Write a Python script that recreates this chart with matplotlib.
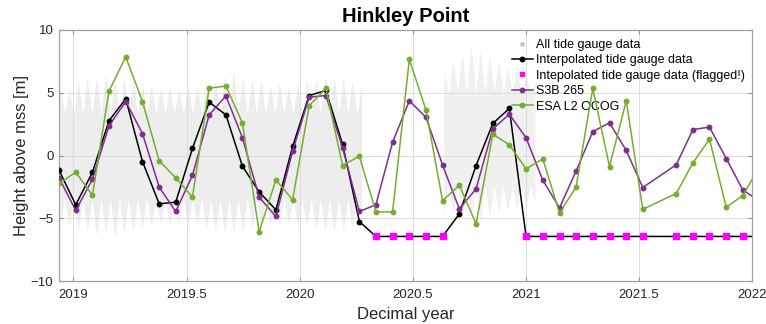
import numpy as np
import matplotlib
matplotlib.use("Agg")
import matplotlib.pyplot as plt
from matplotlib.lines import Line2D

plt.rcParams['font.family'] = ['Liberation Sans', 'DejaVu Sans']

# pass times (decimal year), one per 27-day cycle (one cycle missing in 2021.6)
t = [2018.936, 2019.010, 2019.084, 2019.157, 2019.231, 2019.305, 2019.379, 2019.452,
     2019.526, 2019.600, 2019.674, 2019.747, 2019.821, 2019.895, 2019.969, 2020.042,
     2020.116, 2020.190, 2020.264, 2020.337, 2020.411, 2020.485, 2020.559, 2020.632,
     2020.706, 2020.780, 2020.854, 2020.927, 2021.001, 2021.075, 2021.149, 2021.222,
     2021.296, 2021.370, 2021.444, 2021.517, 2021.665, 2021.739, 2021.812, 2021.886,
     2021.960, 2022.034]

tg_interp = [-1.17, -3.93, -1.33, 2.76, 4.52, -0.48, -3.85, -3.72, 0.56, 4.25, 3.24,
             -0.85, -2.90, -4.33, 0.72, 4.78, 5.18, 0.88, -5.26, -6.45, -6.45, -6.45,
             -6.45, -6.45, -4.65, -0.80, 2.55, 3.75, -6.45, -6.45, -6.45, -6.45, -6.45,
             -6.45, -6.45, -6.45, -6.45, -6.45, -6.45, -6.45, -6.45, -6.45]
tg_flagged = [0] * 19 + [1] * 5 + [0] * 4 + [1] * 14

s3b = [-1.78, -4.38, -1.89, 2.36, 4.30, 1.75, -2.52, -4.46, -1.59, 3.24, 4.75, 1.41,
       -3.32, -4.86, 0.35, 4.65, 4.78, 0.61, -4.46, -3.93, 1.06, 4.36, 3.03, -0.77,
       -4.25, -2.66, 2.12, 3.29, 1.41, -1.97, -4.17, -1.25, 1.91, 2.60, 0.40, -2.55,
       -0.74, 2.07, 2.26, -0.24, -2.76, -3.64]

ocog = [-2.23, -1.33, -3.16, 5.13, 7.86, 4.30, -0.43, -1.78, -3.32, 5.37, 5.53, 2.60,
        -6.08, -1.94, -3.53, 3.98, 5.34, -0.80, -0.05, -4.49, -4.49, 7.67, 3.59, -3.61,
        -2.36, -5.45, 1.70, 0.85, -1.06, -0.27, -4.57, -2.52, 5.34, -0.88, 4.36, -4.28,
        -3.03, -0.58, 1.30, -4.12, -3.19, -0.86]

# tide gauge record: spring-tide extremes (two stretches, gap mid 2020)
gauge_t_a = [2018.940, 2018.980, 2019.021, 2019.061, 2019.102, 2019.142, 2019.183,
             2019.223, 2019.263, 2019.304, 2019.344, 2019.385, 2019.425, 2019.465,
             2019.506, 2019.546, 2019.587, 2019.627, 2019.668, 2019.708, 2019.748,
             2019.789, 2019.829, 2019.870, 2019.910, 2019.950, 2019.991, 2020.031,
             2020.072, 2020.112, 2020.152, 2020.193, 2020.233, 2020.274]
gauge_hi_a = [5.6, 5.2, 5.9, 6.2, 6.3, 6.5, 6.4, 6.2, 6.1, 5.8, 5.6, 5.4, 5.5, 5.3,
              5.5, 5.6, 5.9, 6.1, 6.4, 6.8, 6.3, 6.1, 5.9, 5.7, 5.8, 5.5, 5.8, 5.9,
              6.1, 6.3, 6.4, 6.2, 6.0, 5.8]
gauge_lo_a = [-5.8, -5.6, -6.0, -6.1, -6.4, -6.3, -6.5, -6.2, -6.0, -5.8, -5.6, -5.4,
              -5.5, -5.3, -5.6, -5.7, -5.9, -6.1, -6.2, -6.3, -6.0, -5.8, -5.7, -5.5,
              -5.6, -5.4, -5.6, -5.7, -5.9, -6.1, -6.2, -6.0, -5.8, -5.6]
gauge_t_b = [2020.637, 2020.678, 2020.718, 2020.758, 2020.799, 2020.839, 2020.880,
             2020.920, 2020.960, 2021.001, 2021.041]
gauge_hi_b = [6.8, 7.6, 8.2, 8.8, 8.4, 8.0, 7.6, 7.2, 6.8, 6.4, 5.8]
gauge_lo_b = [-4.8, -4.6, -4.9, -5.0, -5.2, -4.8, -4.6, -4.4, -4.2, -4.0, -3.8]
neap_hi = [3.3, 5.0]
neap_lo = [-3.4, -2.4]

purple = '#7E2F8E'
green = '#77AC30'

fig = plt.figure(figsize=(7.66, 3.24), dpi=100)
ax = fig.add_axes([59 / 766, 43 / 324, 693 / 766, 251 / 324])

# gauge envelope: spring extremes with neap levels in between
for gt, ghi, glo, nh, nl, col in [
        (gauge_t_a, gauge_hi_a, gauge_lo_a, neap_hi[0], neap_lo[0], '#ededed'),
        (gauge_t_b, gauge_hi_b, gauge_lo_b, neap_hi[1], neap_lo[1], '#f0f0f0')]:
    et, ehi, elo = [], [], []
    for k in range(len(gt)):
        et.append(gt[k]); ehi.append(ghi[k]); elo.append(glo[k])
        if k < len(gt) - 1:
            et.append((gt[k] + gt[k + 1]) / 2); ehi.append(nh); elo.append(nl)
    ax.fill_between(et, elo, ehi, color=col, lw=0, zorder=0.5)

good = [i for i, f in enumerate(tg_flagged) if not f]
bad_t = [t[i] for i, f in enumerate(tg_flagged) if f]
bad_v = [tg_interp[i] for i, f in enumerate(tg_flagged) if f]

ax.plot(t, tg_interp, '-', color='black', lw=1.1, marker='o', ms=3.2,
        markevery=good, zorder=3)
ax.plot(bad_t, bad_v, 's', color='#ff00ff', ms=4.0, mec='#ff00ff', zorder=4)
ax.plot(t, s3b, '-', color=purple, lw=1.1, marker='o', ms=3.2, zorder=5)
ax.plot(t, ocog, '-', color=green, lw=1.1, marker='o', ms=3.2, zorder=6)

ax.set_xlim(2018.936, 2022)
ax.set_ylim(-10, 10)
ax.set_xticks([2019, 2019.5, 2020, 2020.5, 2021, 2021.5, 2022])
ax.set_xticklabels(['2019', '2019.5', '2020', '2020.5', '2021', '2021.5', '2022'])
ax.set_yticks([-10, -5, 0, 5, 10])
ax.tick_params(direction='in', top=True, right=True, length=3, width=0.8,
               color='#8c8c8c', labelsize=9.5, labelcolor='#262626')
ax.tick_params(axis='x', pad=6)
ax.tick_params(axis='y', pad=4)
ax.grid(True, color='#dcdcdc', lw=0.7)
for sp in ax.spines.values():
    sp.set_color('#a0a0a0')
    sp.set_linewidth(0.9)

ax.set_title('Hinkley Point', fontsize=14.5, fontweight='bold', pad=6)
ax.set_xlabel('Decimal year', fontsize=12, color='#262626', labelpad=4)
ax.set_ylabel('Height above mss [m]', fontsize=12, color='#262626', labelpad=1.5)

handles = [
    Line2D([], [], ls='none', marker='o', ms=2.5, color='#c8c8c8'),
    Line2D([], [], color='black', lw=1.1, marker='o', ms=3.2),
    Line2D([], [], ls='none', marker='s', ms=2.2, color='#ff00ff'),
    Line2D([], [], color=purple, lw=1.1, marker='o', ms=3.2),
    Line2D([], [], color=green, lw=1.1, marker='o', ms=3.2),
]
labels = ['All tide gauge data', 'Interpolated tide gauge data',
          'Intepolated tide gauge data (flagged!)', 'S3B 265', 'ESA L2 OCOG']
ax.legend(handles, labels, loc='upper left', bbox_to_anchor=(512 / 766, 1 - 39 / 324),
          bbox_transform=fig.transFigure, frameon=False, fontsize=9,
          handlelength=1.65, handletextpad=0.25, labelspacing=0.27,
          borderpad=0, borderaxespad=0)

fig.savefig('out.png', dpi=100)
